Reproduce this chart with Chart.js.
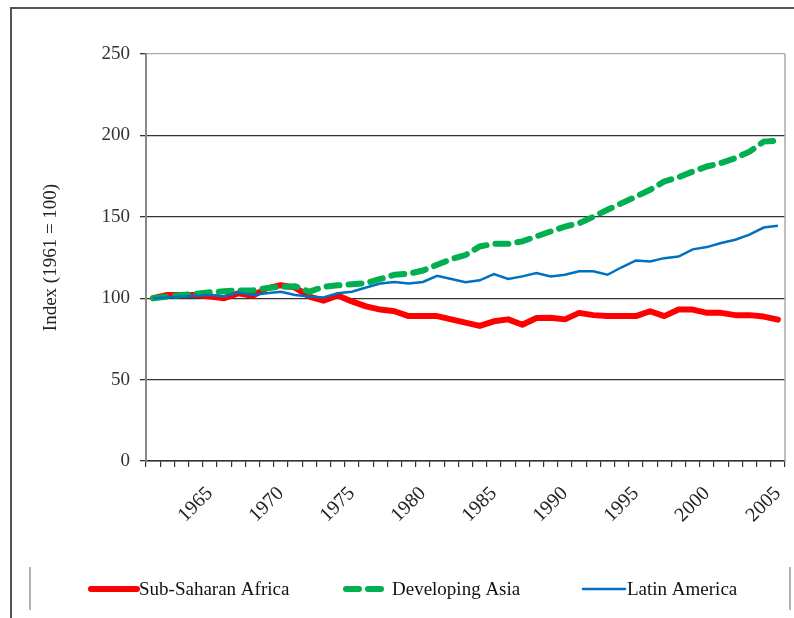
<!DOCTYPE html>
<html>
<head>
<meta charset="utf-8">
<script src="https://cdn.jsdelivr.net/npm/chart.js@4.4.1/dist/chart.umd.min.js"></script>
<style>
  html, body { margin: 0; padding: 0; background: #fff; }
  #wrap { width: 794px; height: 618px; position: relative; }
</style>
</head>
<body>
<div id="wrap"><canvas id="chart" width="794" height="618"></canvas></div>
<script>
// Годы 1961–2005
const years = []
for (let y = 1961; y <= 2005; y++) years.push(String(y))

const yTicks = [0, 50, 100, 150, 200, 250]

const subSaharanAfrica = [100, 102, 102, 102, 101, 100, 103, 101.5, 106, 108, 106.5, 101, 98.5, 101.7, 98,
  95, 93, 92, 89, 89, 89, 87, 85, 83, 85.8, 87, 83.7, 87.8, 88, 87,
  91, 89.6, 89, 89, 89, 92, 89, 93, 93, 91, 91, 89.6, 89.6, 88.7, 86.8]

const developingAsia = [100, 101, 102, 102.7, 103.6, 104.2, 104.8, 104.8, 106.2, 107, 107.4, 104, 107, 107.9, 108.6,
  109.3, 111.8, 114.4, 115, 117, 120.5, 124, 126.5, 131.8, 133.4, 133.4, 134.9, 138, 141, 144,
  146, 150, 154.3, 158.4, 162.4, 166.6, 171.7, 174.3, 177.8, 180.9, 183, 186, 190, 196.2, 196.8]

const latinAmerica = [100, 100.5, 101, 101.5, 102, 101, 103.6, 102, 103, 104, 102, 101, 100.5, 103, 104,
  106.6, 109, 110, 109, 110, 113.8, 111.8, 109.8, 111, 114.8, 111.8, 113.4, 115.5, 113.4, 114.4,
  116.5, 116.5, 114.4, 119, 123.2, 122.6, 124.6, 125.6, 130, 131.4, 133.9, 135.9, 139, 143.4, 144.5]

const FONT = "'Liberation Serif', 'Times New Roman', serif"

// Рамка вокруг рисунка, правая граница области графика и легенда
const framePlugin = {
  id: "frame",
  afterDraw(chart) {
    const ctx = chart.ctx
    const a = chart.chartArea
    ctx.save()
    // внешняя рамка
    ctx.strokeStyle = "#555"
    ctx.lineWidth = 2
    ctx.beginPath()
    ctx.moveTo(11, 618)
    ctx.lineTo(11, 8)
    ctx.lineTo(794, 8)
    ctx.stroke()
    // правая граница области графика
    ctx.strokeStyle = "#aaa"
    ctx.lineWidth = 1.5
    ctx.beginPath()
    ctx.moveTo(a.right, a.top)
    ctx.lineTo(a.right, a.bottom)
    ctx.stroke()
    // боковые линии легенды
    ctx.strokeStyle = "#999"
    ctx.lineWidth = 1.5
    ctx.beginPath()
    ctx.moveTo(30, 567); ctx.lineTo(30, 610)
    ctx.moveTo(790, 567); ctx.lineTo(790, 610)
    ctx.stroke()

    // легенда
    const ly = 589
    chart.data.datasets.forEach((ds, i) => {
      const x0 = [91, 346, 583][i]
      const x1 = [137, 390, 625][i]
      ctx.strokeStyle = ds.borderColor
      ctx.lineWidth = ds.borderWidth
      ctx.lineCap = "round"
      ctx.setLineDash(ds.borderDash || [])
      ctx.beginPath()
      ctx.moveTo(x0, ly)
      ctx.lineTo(x1, ly)
      ctx.stroke()
      ctx.setLineDash([])
      ctx.fillStyle = "#111"
      ctx.font = "19px " + FONT
      ctx.textBaseline = "middle"
      ctx.textAlign = "left"
      ctx.fillText(ds.label, x1 + 2, ly + 1)
    })
    ctx.restore()
  }
}

new Chart(document.getElementById("chart"), {
  type: "line",
  data: {
    labels: years,
    datasets: [
      {
        label: "Sub-Saharan Africa",
        data: subSaharanAfrica,
        borderColor: "#ff0000",
        borderWidth: 6,
        borderCapStyle: "round",
        borderJoinStyle: "round",
        pointRadius: 0,
        tension: 0,
        order: 3
      },
      {
        label: "Developing Asia",
        data: developingAsia,
        borderColor: "#00b050",
        borderWidth: 6,
        borderDash: [13, 9],
        borderCapStyle: "round",
        pointRadius: 0,
        tension: 0,
        order: 2
      },
      {
        label: "Latin America",
        data: latinAmerica,
        borderColor: "#0070c0",
        borderWidth: 2.5,
        pointRadius: 0,
        tension: 0,
        order: 1
      }
    ]
  },
  options: {
    responsive: false,
    animation: false,
    layout: { padding: { left: 12, right: 9, top: 54, bottom: 0 } },
    plugins: {
      legend: { display: false },
      tooltip: { enabled: false }
    },
    scales: {
      x: {
        offset: true,
        grid: {
          offset: true,
          drawOnChartArea: false,
          drawTicks: true,
          tickLength: 6,
          color: "#333",
          lineWidth: 1.2
        },
        border: { color: "#333", width: 1.5 },
        ticks: {
          autoSkip: false,
          minRotation: 45,
          maxRotation: 45,
          padding: 15,
          color: "#222",
          font: { family: FONT, size: 20 },
          callback: function (v, i) {
            const y = years[i]
            return Number(y) % 5 === 0 ? y : ""
          }
        },
        afterFit(scale) {
          scale.height = 157
          scale.paddingRight = 0
          scale.paddingLeft = 0
        }
      },
      y: {
        min: 0,
        max: 250,
        afterBuildTicks(scale) { scale.ticks = yTicks.map(v => ({ value: v })) },
        grid: {
          color: ctx => (ctx.tick && ctx.tick.value === 250 ? "#aaa" : "#333"),
          lineWidth: 1.3,
          tickLength: 6,
          tickColor: "#333"
        },
        border: { color: "#888", width: 2 },
        ticks: {
          padding: 10,
          color: "#333",
          font: { family: FONT, size: 19 }
        },
        title: {
          display: true,
          text: "Index (1961 = 100)",
          color: "#222",
          font: { family: FONT, size: 19 },
          padding: { top: 28, bottom: 0 }
        },
        afterFit(scale) { scale.width = 134 }
      }
    }
  },
  plugins: [framePlugin]
})
</script>
</body>
</html>
